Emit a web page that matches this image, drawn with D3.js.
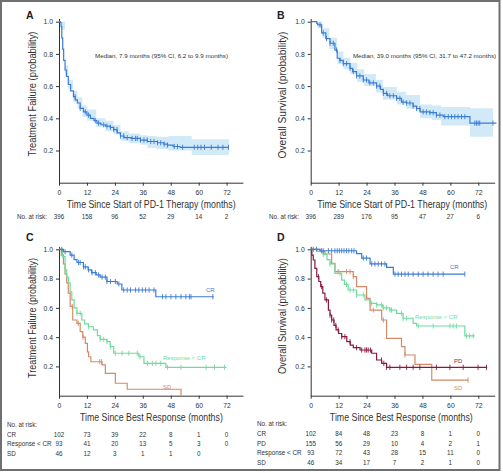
<!DOCTYPE html>
<html><head><meta charset="utf-8">
<script src="https://cdn.jsdelivr.net/npm/d3@7"></script>
<style>body{margin:0;background:#fff}svg{display:block}text{font-family:"Liberation Sans",Arial,sans-serif;fill:#333}</style>
</head><body><svg id="c" width="503" height="473"></svg>
<script>
// ---------- DATA ----------
const xTicks = [0, 12, 24, 36, 48, 60, 72];
const yTicks = [0.2, 0.4, 0.6, 0.8, 1.0];

// Panel A: treatment failure, all patients
const aT = [0,0.5,0.9,1.2,1.6,2.0,2.6,3.2,4.0,5.0,6.2,7.0,7.9,9.1,10.5,12,13.5,15,16.3,18,20,22,23.5,25,26.4,28,31,35,38,42.3,45,46.6,49,52,73];
const aS = [1,0.995,0.97,0.90,0.83,0.76,0.70,0.66,0.61,0.57,0.535,0.515,0.495,0.462,0.44,0.42,0.40,0.385,0.37,0.36,0.352,0.344,0.33,0.31,0.29,0.28,0.275,0.265,0.256,0.248,0.24,0.234,0.225,0.22,0.22];
const aCiT = [0,1,2.6,4,6,8,10,12,16,20,23.5,26.4,30,35,38,42,47,52,57,73];
const aCiLo = [1,0.95,0.67,0.58,0.50,0.46,0.41,0.385,0.345,0.32,0.30,0.26,0.245,0.235,0.215,0.21,0.2,0.2,0.172,0.172];
const aCiHi = [1,1,0.73,0.64,0.57,0.53,0.48,0.455,0.40,0.385,0.36,0.32,0.305,0.295,0.29,0.285,0.29,0.29,0.27,0.27];
const aCens = [6.9,9.1,11.3,12.7,15.6,17.0,19.2,20.6,22.1,23.5,24.9,26.4,27.8,29.3,31.4,32.9,33.6,35.0,36.5,37.9,39.4,40.8,42.3,43.7,45.2,46.6,49.5,50.9,53.1,58.1,59.6,61.0,62.5,65.4,68.3,70.4,72.8];
const aRisk = [396,158,96,52,29,14,2];

// Panel B: overall survival, all patients
const bT = [0,2.6,3,4.7,6.5,8.3,10.4,11.4,12.5,14,16.9,18,19.7,22.6,25,28.3,30,31.2,33,36.9,39,41.2,44,45.5,47,51.2,54,56.9,68.4,79.8];
const bS = [1,0.99,0.98,0.93,0.895,0.866,0.824,0.773,0.76,0.74,0.71,0.69,0.663,0.638,0.62,0.60,0.58,0.555,0.54,0.524,0.50,0.495,0.476,0.46,0.44,0.435,0.42,0.41,0.37,0.37];
const bCiT = [0,3,5,8,11.4,14,17,20,23,28,31,37,41,47,52,56,68.4,78.3];
const bCiLo = [1,0.96,0.9,0.83,0.735,0.705,0.675,0.625,0.60,0.56,0.515,0.485,0.46,0.40,0.39,0.355,0.286,0.286];
const bCiHi = [1,1,0.96,0.90,0.815,0.775,0.745,0.705,0.675,0.64,0.595,0.565,0.545,0.485,0.48,0.47,0.462,0.462];
const bCens = [4.0,5.4,6.8,8.3,9.7,11.1,12.6,14.0,15.4,16.9,18.3,19.7,21.1,22.6,24.0,25.4,26.9,28.3,29.7,31.2,32.6,34.0,35.5,36.9,38.3,39.7,41.2,42.6,44.0,45.5,46.9,48.3,49.7,51.2,52.6,54.0,55.5,57.6,59.1,60.5,61.9,63.3,64.8,66.2,70.5,71.2,71.9,72.6,78.3];
const bRisk = [396,289,176,95,47,27,6];

// Panel C: treatment failure by best response
const cCrT = [0,1.9,4.8,6.5,7.7,10.5,12.5,14,16,17.7,20.6,25,27,41.6,66.4];
const cCrS = [1,0.984,0.96,0.93,0.91,0.88,0.86,0.84,0.825,0.81,0.78,0.763,0.722,0.676,0.676];
const cCrCens = [1.2,2.6,5.5,8.4,9.1,10.5,11.3,12.7,14.2,15.6,17.0,18.5,19.9,20.6,22.1,24.2,25.7,27.8,29.3,30.7,32.9,34.3,35.8,37.2,38.7,40.8,44.5,45.9,48.1,50.2,52.4,54.5,56,56.7,66.1];
const cPrT = [0,1.5,2.6,3.3,4,4.8,5.5,6.5,7.7,9.8,11,12.7,14.8,16.5,17.7,20.6,22,23.5,34.3,36.5,45.9,71.9];
const cPrS = [1,0.95,0.86,0.81,0.77,0.71,0.654,0.60,0.563,0.517,0.49,0.471,0.449,0.41,0.385,0.369,0.335,0.29,0.266,0.221,0.194,0.194];
const cPrCens = [7.7,9.1,12.7,17.7,19.2,20.6,22.1,24.2,27.1,30,33.6,34.8,38,40.1,41.6,43.7,46.6,52.4,63.2,66.8,71.1];
const cSdT = [0,1,1.9,2.6,3.3,4,4.8,5.9,7.7,9.1,10.2,11.3,12.2,12.7,13.7,18.5,19.9,24.2,29.3,52.4];
const cSdS = [1,0.96,0.9,0.83,0.77,0.70,0.61,0.517,0.494,0.437,0.40,0.358,0.30,0.266,0.232,0.21,0.153,0.085,0.044,0];
const cSdCens = [5.7,8.3,10.3,17.5,18.3];
const cRiskLabels = ["CR", "Response < CR", "SD"];
const cRiskCR = [102,73,39,22,8,1,0];
const cRiskPR = [93,41,20,13,5,3,0];
const cRiskSD = [46,12,3,1,1,0];

// Panel D: overall survival by best response
const dCrT = [0,4,19.7,21.9,25.5,32.6,35.5,66.2];
const dCrS = [1,0.99,0.97,0.94,0.90,0.877,0.83,0.83];
const dCrCens = [1.1,2.5,4.7,5.4,7.6,9.0,10.4,11.4,12.3,13.3,14.3,15.4,16.4,17.6,18.6,22.6,24.0,26.2,27.6,29.0,30.4,31.9,36.2,37.6,39.0,40.5,41.9,44.0,46.2,48.3,50.4,52.6,54.7,56.9,66.2];
const dPdT = [0,0.5,1.1,1.8,2.6,3.5,4.3,5.2,6.1,7.6,8.3,9,10,10.9,12,13.3,15.5,17,18.3,21.2,26.2,28.3,30.5,32.6,75.8];
const dPdS = [1,0.96,0.927,0.87,0.813,0.78,0.745,0.70,0.654,0.585,0.55,0.517,0.48,0.449,0.425,0.403,0.369,0.345,0.328,0.312,0.29,0.244,0.221,0.194,0.194];
const dPdCens = [3.3,4.7,6.8,8.3,9.0,9.9,10.8,11.8,13.3,14.7,16.9,19.7,21.9,23.3,24.0,24.7,25.7,30.4,31.4,32.6,34.0,38.3,41.2,44.0,46.9,54.0,59.8,65.5,71.9,75.5];
const dPrT = [0,3,5.4,7,8.3,10.4,13.3,14.5,16.1,19.7,23.3,25.5,28.3,31,34,36.9,39.7,44,45.5,66.2,70.5];
const dPrS = [1,0.985,0.965,0.93,0.90,0.836,0.79,0.76,0.722,0.688,0.654,0.631,0.62,0.60,0.585,0.563,0.529,0.494,0.476,0.408,0.408];
const dPrCens = [5.4,8.3,12.6,15.4,16.9,18.3,19.7,22.6,26.2,28.3,30.4,31.2,32.6,34.0,34.7,39.0,39.7,41.2,46.2,52.6,59.8,61.2,62.6,66.9,68.3,69.8];
const dSdT = [0,4,6.1,9,10.4,18.3,19.7,24,25.5,30.5,32.6,39,40.5,44.8,52,67.6];
const dSdS = [1,0.984,0.968,0.904,0.847,0.813,0.745,0.665,0.585,0.517,0.392,0.335,0.278,0.214,0.107,0.107];
const dSdCens = [11.8,15.4,16.9,18.3,26.9,31.2,40.5,67.6];
const dRiskLabels = ["CR", "PD", "Response < CR", "SD"];
const dRiskCR = [102,84,48,23,8,1,0];
const dRiskPD = [155,56,29,10,4,2,1];
const dRiskPR = [93,72,43,28,15,11,0];
const dRiskSD = [46,34,17,7,2,1,0];

// ---------- STYLE ----------
const BLUE = "#3b7cd2", BAND = "#d2eaf8", GREEN = "#6fdc9e", SALMON = "#d48a68", MAROON = "#8a1740";
const svg = d3.select("#c");

svg.append("rect").attr("x",1).attr("y",1).attr("width",498.5).attr("height",469)
  .attr("fill","none").attr("stroke","#707070").attr("stroke-width",2);

function makePanel(x0, yBottom, yTop1) {
  const x = d3.scaleLinear().domain([0,79]).range([x0, x0 + 79*2.328]);
  const y = d3.scaleLinear().domain([0,1]).range([yBottom, yTop1]);
  const yAx = d3.scaleLinear().domain([0,1.02]).range([yBottom, yBottom - (yBottom-yTop1)*1.02]);
  const g = svg.append("g");
  const xa = g.append("g").attr("transform",`translate(0,${yBottom})`)
    .call(d3.axisBottom(x).tickValues(xTicks).tickSize(3).tickSizeOuter(0).tickPadding(4));
  const ya = g.append("g").attr("transform",`translate(${x0},0)`)
    .call(d3.axisLeft(yAx).tickValues(yTicks).tickFormat(d3.format(".1f")).tickSize(3).tickSizeOuter(0).tickPadding(3));
  [xa, ya].forEach(a => {
    a.selectAll("path,line").attr("stroke","#333").attr("stroke-width",1);
    a.selectAll("text").attr("font-size",6.8).attr("fill","#333").attr("font-family","Liberation Sans, Arial, sans-serif");
  });
  return {g, x, y};
}

function stepVal(T, S, t) {
  const i = d3.bisectRight(T, t) - 1;
  return S[Math.max(0, i)];
}

function drawCurve(p, T, S, cens, color) {
  const pts = T.map((t,i)=>[t,S[i]]);
  p.g.append("path").datum(pts)
    .attr("d", d3.line().curve(d3.curveStepAfter).x(d=>p.x(d[0])).y(d=>p.y(d[1])))
    .attr("fill","none").attr("stroke",color).attr("stroke-width",1.2);
  p.g.append("g").selectAll("line").data(cens).join("line")
    .attr("x1",d=>p.x(d)).attr("x2",d=>p.x(d))
    .attr("y1",d=>p.y(stepVal(T,S,d))-2.6).attr("y2",d=>p.y(stepVal(T,S,d))+2.6)
    .attr("stroke",color).attr("stroke-width",0.9);
}

function drawBand(p, T, lo, hi) {
  const pts = T.map((t,i)=>[t,lo[i],hi[i]]);
  p.g.insert("path", ":first-child").datum(pts)
    .attr("d", d3.area().curve(d3.curveStepAfter).x(d=>p.x(d[0])).y0(d=>p.y(d[1])).y1(d=>p.y(d[2])))
    .attr("fill",BAND).attr("stroke","none");
}

function txt(x, y, s, opt={}) {
  const t = svg.append("text").attr("x",x).attr("y",y).text(s)
    .attr("font-size",opt.size||6.3).attr("text-anchor",opt.anchor||"start");
  if (opt.weight) t.attr("font-weight",opt.weight);
  if (opt.color) t.style("fill",opt.color);
  return t;
}
// condensed title: scale horizontally so the text spans `len` pixels
function ctext(cx, cy, s, len, size, rot) {
  const g = svg.append("g");
  const t = g.append("text").attr("text-anchor","middle").attr("dy", rot ? "0.35em" : null)
    .attr("font-size",size).text(s);
  const w = t.node().getComputedTextLength();
  const sx = len / w;
  g.attr("transform", `translate(${cx},${cy})` + (rot ? " rotate(-90)" : "") + ` scale(${sx},1)`);
  return t;
}

// ---------- PANEL A ----------
const pA = makePanel(59, 182.7, 21.7);
drawBand(pA, aCiT, aCiLo, aCiHi);
drawCurve(pA, aT, aS, aCens, BLUE);
txt(26, 18.8, "A", {size:10.5, weight:"bold", color:"#222"});
ctext(161.5, 58, "Median, 7.9 months (95% CI, 6.2 to 9.9 months)", 133, 6.2);
ctext(32.3, 94, "Treatment Failure (probability)", 125, 11, true);
ctext(151.2, 208.3, "Time Since Start of PD-1 Therapy (months)", 169, 11);
ctext(32, 218.6, "No. at risk:", 30, 6.3);
aRisk.forEach((v,i)=>txt(pA.x(xTicks[i]), 218.6, v, {anchor:"middle"}));

// ---------- PANEL B ----------
const pB = makePanel(310.7, 182.7, 21.7);
drawBand(pB, bCiT, bCiLo, bCiHi);
drawCurve(pB, bT, bS, bCens, BLUE);
txt(277, 18.8, "B", {size:10.5, weight:"bold", color:"#222"});
ctext(424.5, 58, "Median, 39.0 months (95% CI, 31.7 to 47.2 months)", 143, 6.2);
ctext(282.3, 95, "Overall Survival (probability)", 127, 11, true);
ctext(402.3, 208.3, "Time Since Start of PD-1 Therapy (months)", 170, 11);
ctext(284, 218.6, "No. at risk:", 30, 6.3);
bRisk.forEach((v,i)=>txt(pB.x(xTicks[i]), 218.6, v, {anchor:"middle"}));

// ---------- PANEL C ----------
const pC = makePanel(59, 395.7, 249.3);
drawCurve(pC, cSdT, cSdS, cSdCens, SALMON);
drawCurve(pC, cPrT, cPrS, cPrCens, GREEN);
drawCurve(pC, cCrT, cCrS, cCrCens, BLUE);
txt(26, 241.3, "C", {size:10.5, weight:"bold", color:"#222"});
ctext(32.3, 318, "Treatment Failure (probability)", 120, 11, true);
ctext(151.4, 420.6, "Time Since Best Response (months)", 143, 11);
txt(206, 291.5, "CR", {size:6, color:BLUE});
txt(163, 359.5, "Response < CR", {size:6, color:GREEN});
txt(163, 389, "SD", {size:6, color:SALMON});
txt(7, 426.5, "No. at risk:");
[cRiskCR, cRiskPR, cRiskSD].forEach((row,r)=>{
  const by = 436.5 + r*9.6;
  txt(7, by, cRiskLabels[r]);
  row.forEach((v,i)=>txt(pC.x(xTicks[i]), by, v, {anchor:"middle"}));
});

// ---------- PANEL D ----------
const pD = makePanel(310.7, 395.7, 249.3);
drawCurve(pD, dSdT, dSdS, dSdCens, SALMON);
drawCurve(pD, dPrT, dPrS, dPrCens, GREEN);
drawCurve(pD, dPdT, dPdS, dPdCens, MAROON);
drawCurve(pD, dCrT, dCrS, dCrCens, BLUE);
txt(277, 241.3, "D", {size:10.5, weight:"bold", color:"#222"});
ctext(282.3, 316, "Overall Survival (probability)", 116, 11, true);
ctext(401.3, 420.6, "Time Since Best Response (months)", 143, 11);
txt(450, 269, "CR", {size:6, color:BLUE});
txt(415, 319, "Response < CR", {size:6, color:GREEN});
txt(454, 363, "PD", {size:6, color:MAROON});
txt(454, 389.5, "SD", {size:6, color:SALMON});
txt(257, 426, "No. at risk:");
[dRiskCR, dRiskPD, dRiskPR, dRiskSD].forEach((row,r)=>{
  const by = 436 + r*9.7;
  txt(257, by, dRiskLabels[r]);
  row.forEach((v,i)=>txt(pD.x(xTicks[i]), by, v, {anchor:"middle"}));
});
</script></body></html>
